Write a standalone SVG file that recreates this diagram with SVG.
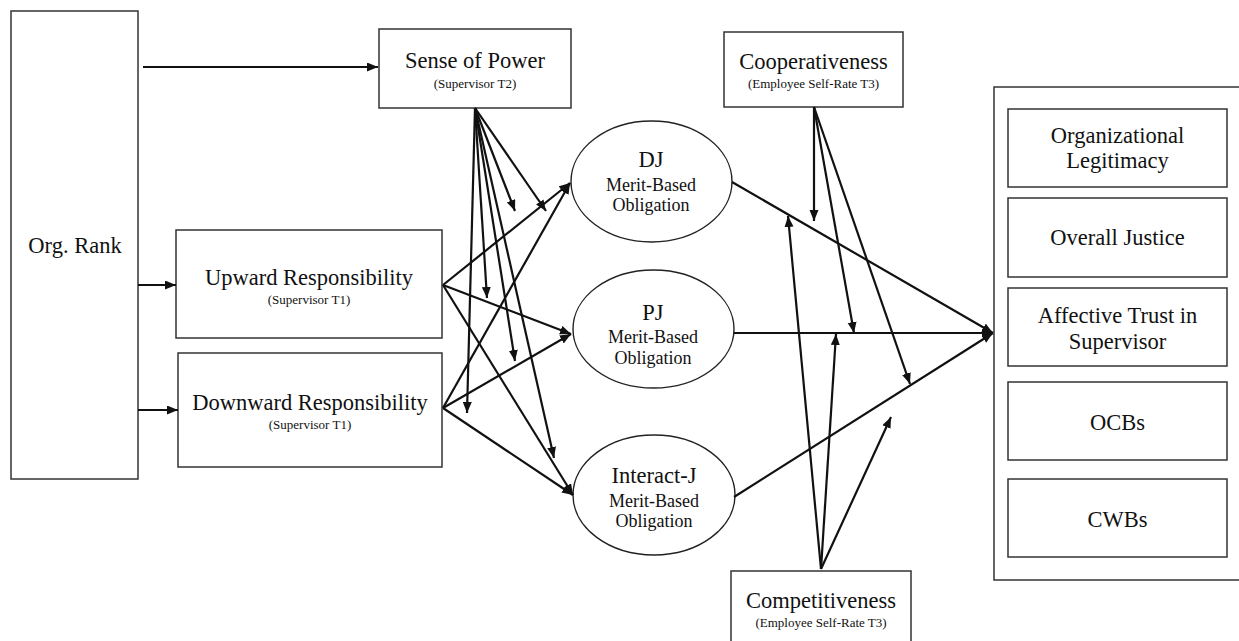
<svg xmlns="http://www.w3.org/2000/svg" width="1239" height="641" viewBox="0 0 1239 641">
<style>
.box{fill:#fff;stroke:#333;stroke-width:1.5}
.ell{fill:#fff;stroke:#222;stroke-width:1.4}
.t{font-family:"Liberation Serif","Times New Roman",serif;font-size:22.5px;fill:#111;text-anchor:middle}
.m{font-family:"Liberation Serif","Times New Roman",serif;font-size:18px;fill:#111;text-anchor:middle}
.s{font-family:"Liberation Serif","Times New Roman",serif;font-size:13px;fill:#111;text-anchor:middle}
.c line{stroke:#111;stroke-width:2.2;fill:none;marker-end:url(#ah)}
</style>
<defs>
<marker id="ah" markerUnits="userSpaceOnUse" markerWidth="12" markerHeight="10" refX="11" refY="4.5" orient="auto">
<path d="M0,0 L11,4.5 L0,9 z" fill="#111"/>
</marker>
</defs>
<rect width="1239" height="641" fill="#fff"/>

<g id="org-rank"><rect class="box" x="11" y="11" width="127" height="468"/><text class="t" x="75" y="253">Org. Rank</text></g>
<g id="sense-of-power"><rect class="box" x="379" y="29" width="192" height="79"/><text class="t" x="475" y="68">Sense of Power</text><text class="s" x="475" y="88">(Supervisor T2)</text></g>
<g id="upward"><rect class="box" x="176" y="230" width="266" height="108"/><text class="t" x="309" y="285">Upward Responsibility</text><text class="s" x="309" y="304">(Supervisor T1)</text></g>
<g id="downward"><rect class="box" x="178" y="353" width="264" height="114"/><text class="t" x="310" y="410">Downward Responsibility</text><text class="s" x="310" y="429">(Supervisor T1)</text></g>
<g id="dj"><ellipse class="ell" cx="651.5" cy="181.5" rx="80.5" ry="60.5"/><text class="t" x="651" y="167">DJ</text><text class="m" x="651" y="191">Merit-Based</text><text class="m" x="651" y="211">Obligation</text></g>
<g id="pj"><ellipse class="ell" cx="653.5" cy="329" rx="80.5" ry="59"/><text class="t" x="653" y="320">PJ</text><text class="m" x="653" y="343">Merit-Based</text><text class="m" x="653" y="364">Obligation</text></g>
<g id="interact-j"><ellipse class="ell" cx="654" cy="495" rx="81" ry="60"/><text class="t" x="654" y="483">Interact-J</text><text class="m" x="654" y="507">Merit-Based</text><text class="m" x="654" y="527">Obligation</text></g>
<g id="cooperativeness"><rect class="box" x="724" y="32" width="179" height="75"/><text class="t" x="813.5" y="69">Cooperativeness</text><text class="s" x="813.5" y="88">(Employee Self-Rate T3)</text></g>
<g id="competitiveness"><rect class="box" x="731" y="571" width="180" height="85"/><text class="t" x="821" y="608">Competitiveness</text><text class="s" x="821" y="627">(Employee Self-Rate T3)</text></g>
<g id="outcomes"><rect class="box" x="994" y="87" width="260" height="493"/>
<g id="org-legitimacy"><rect class="box" x="1008" y="109" width="219" height="78"/><text class="t" x="1117.5" y="143">Organizational</text><text class="t" x="1117.5" y="168">Legitimacy</text></g>
<g id="overall-justice"><rect class="box" x="1008" y="198" width="219" height="79"/><text class="t" x="1117.5" y="245">Overall Justice</text></g>
<g id="affective-trust"><rect class="box" x="1008" y="288" width="219" height="78"/><text class="t" x="1117.5" y="323">Affective Trust in</text><text class="t" x="1117.5" y="349">Supervisor</text></g>
<g id="ocbs"><rect class="box" x="1008" y="382" width="219" height="78"/><text class="t" x="1117.5" y="430">OCBs</text></g>
<g id="cwbs"><rect class="box" x="1008" y="479" width="219" height="78"/><text class="t" x="1117.5" y="527">CWBs</text></g>
</g>

<g id="connectors" class="c">
<line x1="143" y1="67" x2="378" y2="67"/>
<line x1="138" y1="285" x2="176" y2="285"/>
<line x1="138" y1="410" x2="178" y2="410"/>
<line x1="443" y1="285" x2="570" y2="183"/>
<line x1="443" y1="285" x2="571" y2="334"/>
<line x1="443" y1="285" x2="573" y2="495"/>
<line x1="443" y1="408" x2="570" y2="183"/>
<line x1="443" y1="408" x2="571" y2="334"/>
<line x1="443" y1="408" x2="573" y2="495"/>
<line x1="475" y1="108" x2="515" y2="211"/>
<line x1="475" y1="108" x2="546" y2="211"/>
<line x1="475" y1="108" x2="487" y2="298"/>
<line x1="475" y1="108" x2="515" y2="361"/>
<line x1="475" y1="108" x2="467" y2="413"/>
<line x1="475" y1="108" x2="554" y2="458"/>
<line x1="732" y1="182" x2="993" y2="333"/>
<line x1="734" y1="333" x2="993" y2="333"/>
<line x1="734" y1="497" x2="993" y2="333"/>
<line x1="814" y1="107" x2="814" y2="221"/>
<line x1="814" y1="107" x2="854" y2="333"/>
<line x1="814" y1="107" x2="910" y2="384"/>
<line x1="821" y1="569" x2="788" y2="216"/>
<line x1="821" y1="569" x2="836" y2="334"/>
<line x1="821" y1="569" x2="891" y2="417"/>
</g>
</svg>
